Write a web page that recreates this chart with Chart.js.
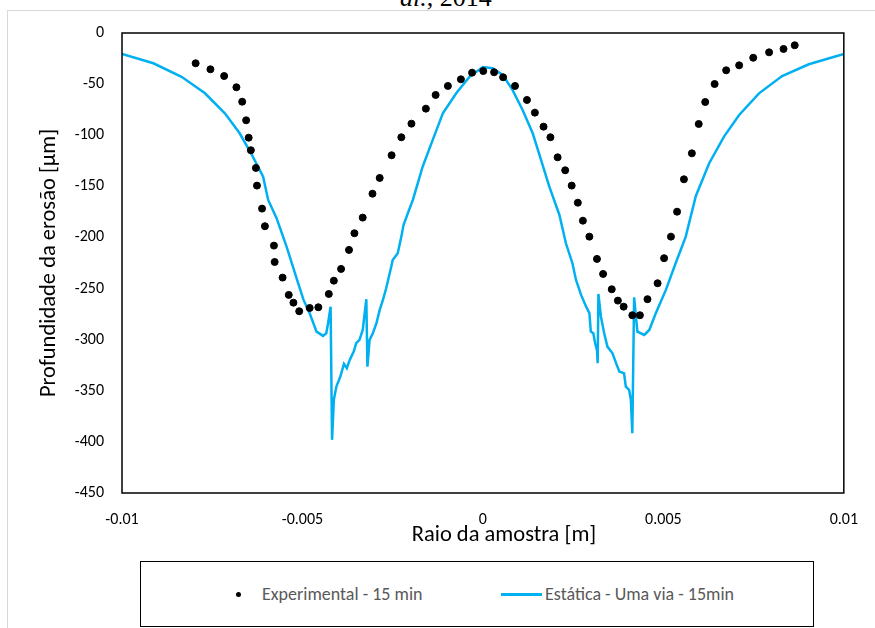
<!DOCTYPE html>
<html lang="pt">
<head>
<meta charset="utf-8">
<title>Profundidade da erosão</title>
<script src="https://cdn.jsdelivr.net/npm/chart.js@4.4.1/dist/chart.umd.min.js"></script>
<style>
  html, body { margin: 0; padding: 0; background: #fff; }
  #pagina {
    position: relative; width: 875px; height: 628px; overflow: hidden;
    font-family: Carlito, Calibri, Lato, sans-serif;
  }
  #grafico { position: absolute; left: 0; top: 0; }
  .linha-topo { position: absolute; left: 7px; top: 10px; width: 868px; border-top: 1px solid #d9d9d9; }
  .linha-esq { position: absolute; left: 7px; top: 10px; height: 618px; border-left: 1px solid #d9d9d9; }
  .citacao {
    position: absolute; left: 400px; top: -15px; white-space: nowrap;
    font: 26px/26px "Liberation Serif", "DejaVu Serif", serif; color: #000;
  }
  #legenda {
    position: absolute; left: 140px; top: 561px; width: 672px; height: 64px;
    border: 1.5px solid #000; background: #fff;
  }
  #legenda .item { position: absolute; top: 32px; transform: translateY(-50%); font-size: 18px; color: #595959; white-space: nowrap; }
  #legenda .ponto { position: absolute; top: 32px; width: 5px; height: 5px; margin: -2.5px 0 0 -2.5px; border-radius: 50%; background: #000; }
  #legenda .traco { position: absolute; top: 32px; height: 3px; margin-top: -1.5px; background: #00b0f0; }
</style>
</head>
<body>
<div id="pagina">
  <div class="linha-topo"></div>
  <div class="linha-esq"></div>
  <div class="citacao"><i>al.</i>, 2014</div>
  <canvas id="grafico" width="875" height="628"></canvas>
  <div id="legenda"></div>
</div>
<script>
// Perfil experimental (15 min): raio [m] e profundidade [µm]
const raioExp = [
  -0.00796, -0.00755, -0.00717, -0.00683, -0.00667, -0.00656, -0.00649, -0.00643, -0.00629, -0.00626,
  -0.00612, -0.00604, -0.00579, -0.00577, -0.00555, -0.00538, -0.00525, -0.00509, -0.00480, -0.00456,
  -0.00427, -0.00413, -0.00393, -0.00371, -0.00356, -0.00333, -0.00306, -0.00286, -0.00253, -0.00226,
  -0.00198, -0.00158, -0.00131, -0.00097, -0.00061, -0.00030, 0.00001, 0.00031, 0.00056, 0.00089,
  0.00122, 0.00144, 0.00168, 0.00187, 0.00207, 0.00228, 0.00246, 0.00263, 0.00277, 0.00295,
  0.00316, 0.00333, 0.00357, 0.00374, 0.00390, 0.00414, 0.00435, 0.00456, 0.00484, 0.00502,
  0.00521, 0.00538, 0.00557, 0.00579, 0.00598, 0.00616, 0.00642, 0.00674, 0.00710, 0.00749,
  0.00793, 0.00833, 0.00864
];
const profExp = [
  -29.6, -35.5, -42.1, -53.1, -67.2, -85.4, -102.4, -114.7, -132.0, -149.3,
  -171.8, -189.0, -208.0, -224.0, -239.3, -256.2, -263.8, -272.2, -269.0, -268.3,
  -255.3, -242.3, -230.8, -212.2, -195.9, -180.6, -157.2, -141.8, -119.6, -102.0,
  -88.7, -74.0, -60.6, -51.8, -45.3, -38.8, -37.2, -38.4, -43.3, -51.8,
  -65.5, -77.9, -91.6, -102.0, -121.6, -134.3, -149.3, -166.0, -183.6, -199.2,
  -221.0, -235.7, -250.7, -261.8, -267.7, -276.1, -276.1, -260.4, -244.8, -220.3,
  -199.2, -174.8, -143.1, -117.7, -89.0, -67.5, -49.9, -36.5, -31.6, -24.2,
  -18.9, -15.6, -12.0
];

// Simulação estática, uma via (15 min)
const raioSim = [
  -0.0100, -0.00913, -0.00835, -0.00770, -0.00715, -0.00674, -0.00640, -0.00609, -0.00595, -0.00572,
  -0.00544, -0.00512, -0.00497, -0.00480, -0.00461, -0.00443, -0.00434, -0.00429, -0.00422, -0.00418,
  -0.00413, -0.00406, -0.00395, -0.00385, -0.00377, -0.00369, -0.00358, -0.00351, -0.00342, -0.00333,
  -0.00323, -0.00320, -0.00314, -0.00305, -0.00295, -0.00286, -0.00277, -0.00268, -0.00254, -0.00250,
  -0.00236, -0.00226, -0.00220, -0.00208, -0.00194, -0.00167, -0.00139, -0.00111, -0.00074, -0.00037,
  0, 0.00027, 0.00055, 0.00082, 0.00110, 0.00138, 0.00161, 0.00184, 0.00212, 0.00230,
  0.00248, 0.00258, 0.00272, 0.00286, 0.00295, 0.00299, 0.00306, 0.00311, 0.00316, 0.00318,
  0.00320, 0.00327, 0.00336, 0.00345, 0.00359, 0.00369, 0.00378, 0.00391, 0.00396, 0.00405,
  0.00410, 0.00414, 0.00419, 0.00428, 0.00447, 0.00461, 0.00479, 0.00507, 0.00534, 0.00562,
  0.00590, 0.00627, 0.00668, 0.00710, 0.00765, 0.00829, 0.00903, 0.0100
];
const profSim = [
  -20.5, -29.6, -42.8, -59.0, -78.5, -98.1, -119.3, -140.5, -163.3, -180.9,
  -209.0, -244.8, -261.1, -274.1, -292.1, -296.3, -293.7, -283.9, -267.7, -398.0,
  -358.9, -345.9, -336.1, -323.7, -327.9, -319.8, -311.7, -303.5, -300.2, -290.5,
  -260.4, -326.4, -300.2, -293.7, -283.9, -270.9, -261.1, -249.7, -228.6, -222.0,
  -215.5, -199.2, -187.8, -176.3, -163.3, -130.8, -104.6, -78.5, -59.0, -42.7,
  -33.3, -34.5, -41.1, -55.7, -75.3, -98.1, -124.2, -150.3, -178.0, -205.7,
  -225.2, -241.6, -256.2, -267.7, -274.1, -292.1, -293.7, -303.5, -310.0, -323.0,
  -255.3, -277.5, -293.7, -306.8, -313.3, -323.0, -331.2, -332.8, -345.9, -349.1,
  -358.9, -391.5, -258.5, -292.1, -295.4, -290.5, -274.1, -251.3, -225.2, -199.2,
  -159.4, -127.4, -101.4, -80.2, -59.0, -42.1, -30.6, -20.5
];

// Marcas dos eixos
const ticksX = [-0.01, -0.005, 0, 0.005, 0.01];
const rotulosX = ['-0.01', '-0.005', '0', '0.005', '0.01'];
const ticksY = [0, -50, -100, -150, -200, -250, -300, -350, -400, -450];

const nomeExp = 'Experimental - 15 min';
const nomeSim = 'Estática - Uma via - 15min';
const tituloX = 'Raio da amostra [m]';
const tituloY = 'Profundidade da erosão [µm]';

const FONTE = 'Carlito, Calibri, Lato, sans-serif';
const AZUL = '#00b0f0';

Chart.defaults.font.family = FONTE;
Chart.defaults.color = '#000';

// moldura da área do gráfico + título do eixo X
const molduraPlugin = {
  id: 'moldura',
  afterDraw(chart) {
    const { ctx, chartArea: a } = chart;
    ctx.save();
    ctx.strokeStyle = '#000';
    ctx.lineWidth = 1.5;
    ctx.strokeRect(a.left, a.top, a.right - a.left, a.bottom - a.top);
    ctx.fillStyle = '#000';
    ctx.font = '22.5px ' + FONTE;
    ctx.textAlign = 'center';
    ctx.textBaseline = 'middle';
    ctx.fillText(tituloX, 504, 535);
    ctx.restore();
  }
};

const canvas = document.getElementById('grafico');

try {
  new Chart(canvas, {
    type: 'scatter',
    data: {
      datasets: [
        {
          label: nomeExp,
          data: raioExp.map((x, i) => ({ x: x, y: profExp[i] })),
          backgroundColor: '#000',
          borderColor: '#000',
          pointRadius: 3.5,
          pointHoverRadius: 3.5,
          showLine: false
        },
        {
          label: nomeSim,
          data: raioSim.map((x, i) => ({ x: x, y: profSim[i] })),
          borderColor: AZUL,
          backgroundColor: AZUL,
          borderWidth: 2.5,
          pointRadius: 0,
          showLine: true,
          tension: 0
        }
      ]
    },
    options: {
      responsive: false,
      animation: false,
      layout: {
        padding: { top: 33, right: 30, bottom: 75, left: 0 }
      },
      plugins: {
        legend: { display: false },
        tooltip: { enabled: false }
      },
      scales: {
        x: {
          type: 'linear',
          min: -0.01,
          max: 0.01,
          afterBuildTicks: (scale) => {
            scale.ticks = ticksX.map(v => ({ value: v }));
          },
          afterFit: (scale) => { scale.height = 60; },
          grid: { display: false, drawTicks: false },
          border: { display: false },
          ticks: {
            padding: 17,
            font: { size: 16 },
            color: '#000',
            maxRotation: 0,
            callback: function(value) {
              const i = ticksX.findIndex(v => Math.abs(v - value) < 1e-9);
              return i >= 0 ? rotulosX[i] : '';
            }
          }
        },
        y: {
          min: -450,
          max: 0,
          afterBuildTicks: (scale) => {
            scale.ticks = ticksY.map(v => ({ value: v }));
          },
          afterFit: (scale) => { scale.width = 122; },
          grid: { display: false, drawTicks: false },
          border: { display: false },
          ticks: {
            padding: 18,
            font: { size: 16 },
            color: '#000'
          },
          title: {
            display: true,
            text: tituloY,
            font: { size: 22.5 },
            color: '#000',
            padding: { top: 36, bottom: 0 }
          }
        }
      }
    },
    plugins: [molduraPlugin]
  });
} catch (error) {
  console.error('Falha ao criar o gráfico:', error);
}

// legenda em caixa sob o gráfico
const legenda = document.getElementById('legenda');
legenda.innerHTML =
  '<span class="ponto" style="left:97px"></span>' +
  '<span class="item" style="left:121px"></span>' +
  '<span class="traco" style="left:360px;width:41px"></span>' +
  '<span class="item" style="left:404px"></span>';
const itens = legenda.querySelectorAll('.item');
itens[0].textContent = nomeExp;
itens[1].textContent = nomeSim;
</script>
</body>
</html>
